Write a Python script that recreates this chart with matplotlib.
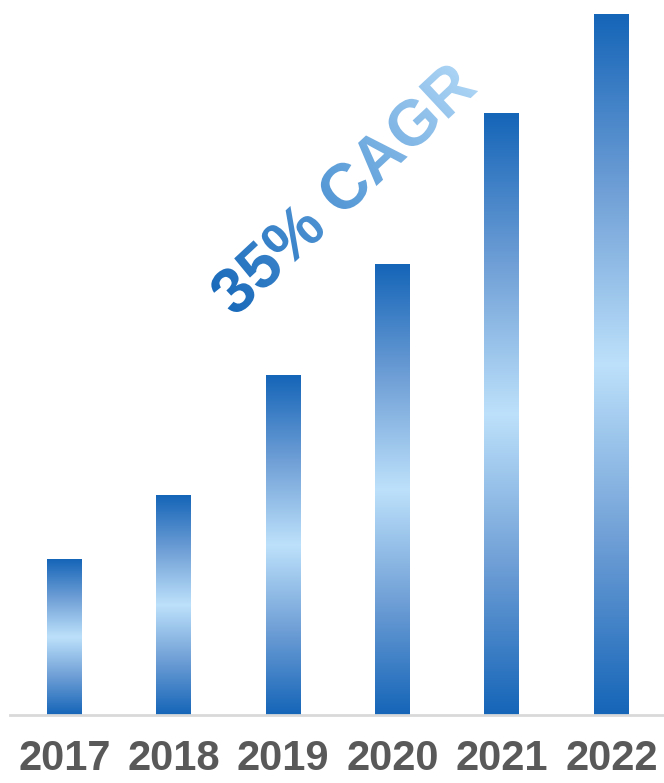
import matplotlib
matplotlib.use("Agg")
import matplotlib.pyplot as plt
import numpy as np
from matplotlib.colors import LinearSegmentedColormap
from matplotlib.textpath import TextPath
from matplotlib.font_manager import FontProperties
from matplotlib.patches import PathPatch
from matplotlib.transforms import Affine2D

years = ["2017", "2018", "2019", "2020", "2021", "2022"]
values = [156, 220, 340, 451, 602, 701]
label = "35% CAGR"

dark = "#1565b8"
light = "#bde1fb"
bar_cmap = LinearSegmentedColormap.from_list("bar", [dark, "#6f9fd6", light, "#6f9fd6", dark])
text_cmap = LinearSegmentedColormap.from_list("txt", ["#1466b8", "#5d9ed9", "#b3d9f7"])

W, H = 664, 783
fig = plt.figure(figsize=(W / 100, H / 100), dpi=100)
ax = fig.add_axes([9.8 / W, 68 / H, 656.2 / W, 715 / H])

x = np.arange(len(years))
width = 0.32
bars = ax.bar(x, values, width, color="none", edgecolor="none")
grad = np.linspace(0, 1, 256).reshape(-1, 1)
for b in bars:
    x0, w, h = b.get_x(), b.get_width(), b.get_height()
    im = ax.imshow(grad, cmap=bar_cmap, aspect="auto", origin="lower",
                   extent=[x0, x0 + w, 0, h], interpolation="bicubic")
    im.set_clip_path(b)

ax.set_xlim(-0.5, len(years) - 0.5)
ax.set_ylim(0, 715)
ax.set_xticks(x)
ax.set_xticklabels(years, fontsize=30, fontweight="bold", color="#595959",
                   family="Liberation Sans")
ax.tick_params(axis="x", length=0, pad=17)
ax.set_yticks([])
for s in ["top", "left", "right"]:
    ax.spines[s].set_visible(False)
ax.spines["bottom"].set_color("#d9d9d9")
ax.spines["bottom"].set_linewidth(2)

# gradient rotated label drawn on an overlay in pixel coordinates
ov = fig.add_axes([0, 0, 1, 1])
ov.set_xlim(0, W)
ov.set_ylim(0, H)
ov.axis("off")
ov.patch.set_alpha(0)

angle = 43
tp = TextPath((0, 0), label, size=64,
              prop=FontProperties(family="Liberation Sans", weight="bold"))
bb = tp.get_extents()
cx, cy = 342, H - 188
tr = Affine2D().translate(-(bb.x0 + bb.x1) / 2, -(bb.y0 + bb.y1) / 2).rotate_deg(angle).translate(cx, cy)
path = tr.transform_path(tp)
patch = PathPatch(path, facecolor="none", edgecolor="none", transform=ov.transData)
ov.add_patch(patch)

pb = path.get_extents()
gx, gy = np.meshgrid(np.linspace(pb.x0, pb.x1, 300), np.linspace(pb.y0, pb.y1, 300))
t = np.cos(np.radians(angle)) * (gx - cx) + np.sin(np.radians(angle)) * (gy - cy)
t = (t - t.min()) / (t.max() - t.min())
tim = ov.imshow(t, cmap=text_cmap, origin="lower", aspect="auto",
                extent=[pb.x0, pb.x1, pb.y0, pb.y1])
tim.set_clip_path(patch)
ov.set_xlim(0, W)
ov.set_ylim(0, H)

fig.savefig("out.png", dpi=100)
